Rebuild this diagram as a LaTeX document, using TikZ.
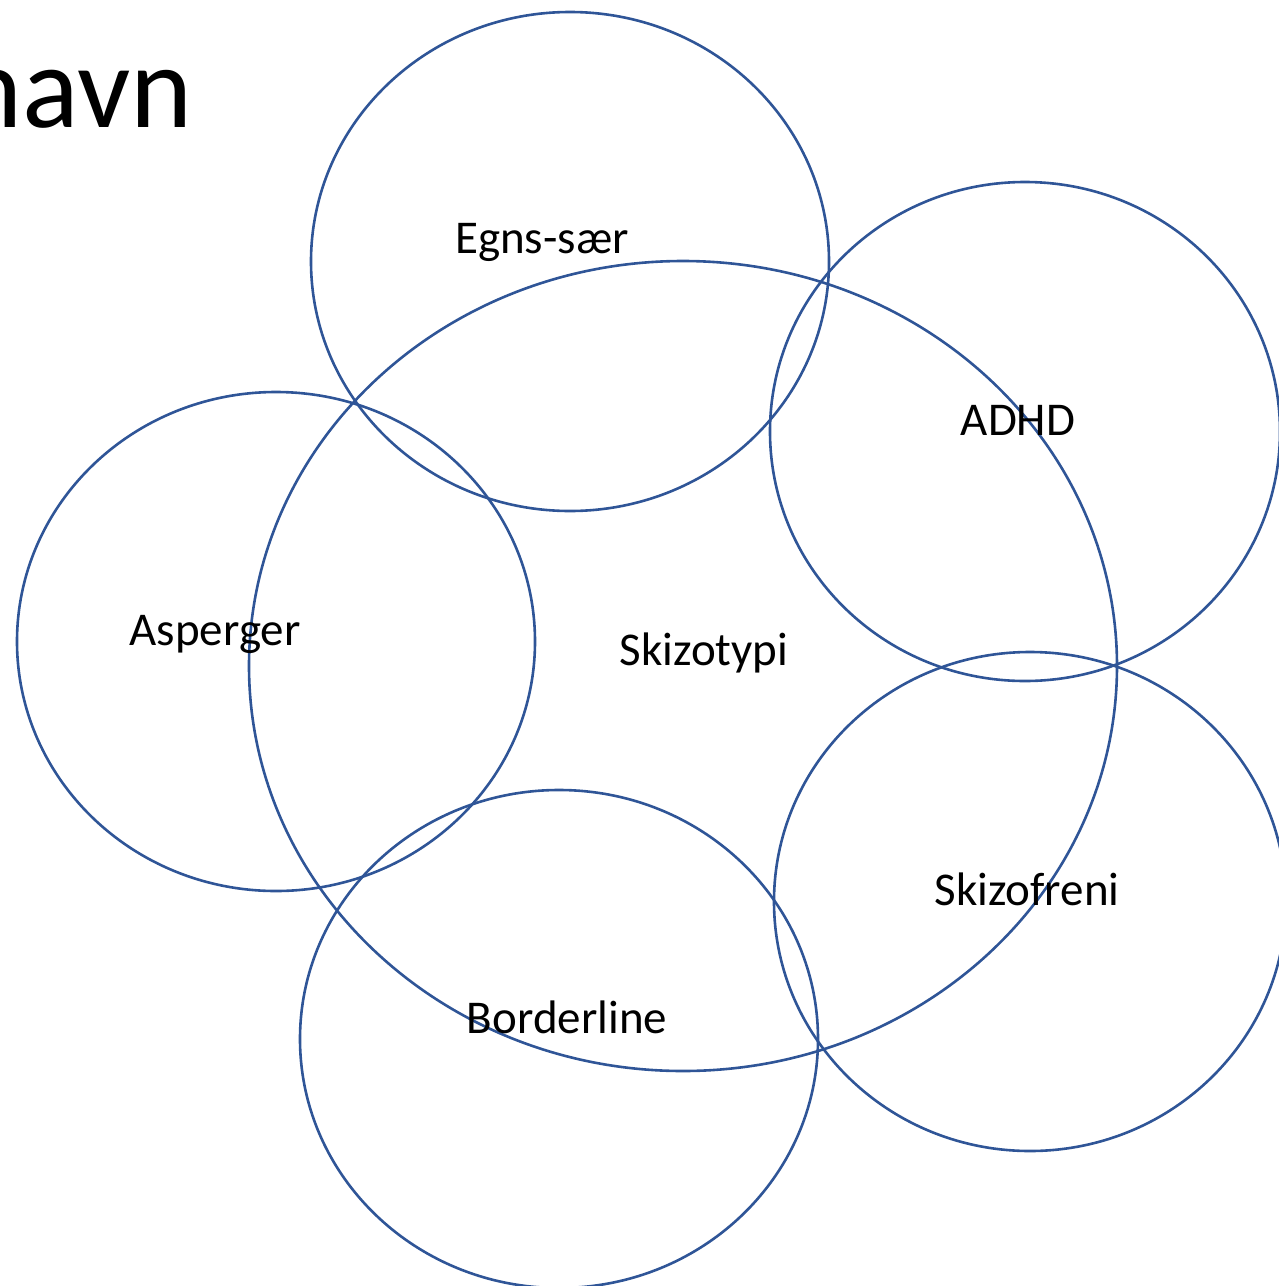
\documentclass[tikz,border=0pt]{standalone}
\usepackage{fontspec}
\setmainfont{Carlito}
\definecolor{ringblue}{HTML}{2F5597}
\begin{document}
\begin{tikzpicture}[x=1pt,y=-1pt,
  ring/.style={draw=ringblue,line width=2.6pt},
  label/.style={anchor=base,inner sep=0pt,font=\fontsize{47}{54}\selectfont},
  title/.style={anchor=base east,inner sep=0pt,font=\fontsize{118}{130}\selectfont}]
\useasboundingbox (0,0) rectangle (1279,1286);
\clip (0,0) rectangle (1279,1286);

% heading, partly running off the left edge
\node[title] (heading) at (193,127) {navn};

% large central ellipse
\draw[ring] (683,666) ellipse [x radius=434pt, y radius=405pt];

% the five surrounding ellipses
\draw[ring] (570,261.5) ellipse [x radius=259pt, y radius=249.5pt];
\draw[ring] (1025,431.5) ellipse [x radius=255pt, y radius=249.5pt];
\draw[ring] (276,641.5) ellipse [x radius=259pt, y radius=249.5pt];
\draw[ring] (559,1039) ellipse [x radius=259pt, y radius=249pt];
\draw[ring] (1030,901.5) ellipse [x radius=256pt, y radius=249.5pt];

% labels
\node[label] (egns) at (542,253) {Egns-sær};
\node[label] (adhd) at (1018,435) {ADHD};
\node[label] (asperger) at (215,645) {Asperger};
\node[label] (skizotypi) at (704,665) {Skizotypi};
\node[label] (skizofreni) at (1027,905) {Skizofreni};
\node[label] (borderline) at (567,1033) {Borderline};
\end{tikzpicture}
\end{document}
